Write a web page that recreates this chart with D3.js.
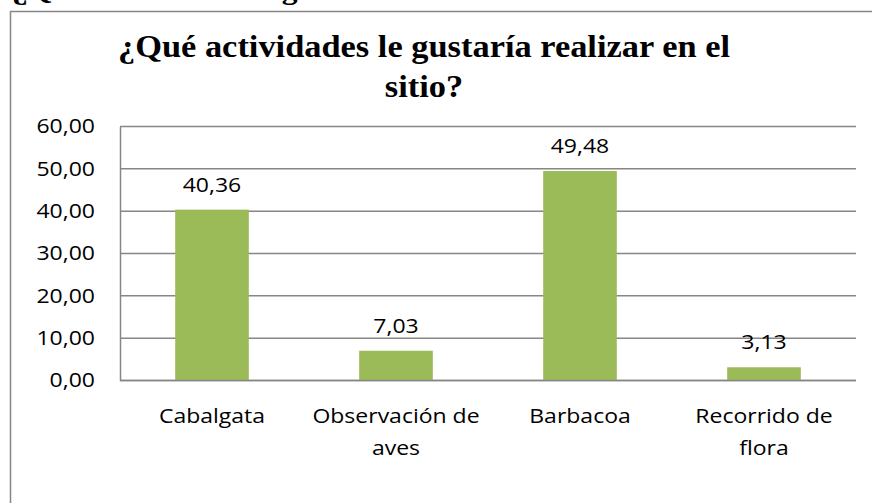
<!DOCTYPE html>
<html>
<head>
<meta charset="utf-8">
<script src="https://cdn.jsdelivr.net/npm/d3@7"></script>
<style>
  html, body { margin: 0; padding: 0; background: #fff; }
  svg { display: block; }
</style>
</head>
<body>
<div id="chart"></div>
<script>
// data
const categories = ['Cabalgata', 'Observación de aves', 'Barbacoa', 'Recorrido de flora'];
const values = [40.36, 7.03, 49.48, 3.13];
const yTicks = [0, 10, 20, 30, 40, 50, 60];
const titleLines = ['¿Qué actividades le gustaría realizar en el', 'sitio?'];
const headingText = '¿Qué actividades le gustaría realizar en el sitio?';

const width = 872;
const height = 503;
const margin = { top: 126.5, right: 16, bottom: 122.5, left: 120 };

const barColor = '#9bbb59';
const lineColor = '#868686';
const labelFont = '"Open Sans", "DejaVu Sans", sans-serif';
const serifFont = '"Liberation Serif", "Times New Roman", serif';
// the picture is a bit wide, so text is stretched sideways
const stretch = 1.15;

const fmt = v => d3.format('.2f')(v).replace('.', ',');
const widen = (ax, k) => `translate(${ax},0) scale(${k},1) translate(${-ax},0)`;

const svg = d3.select('#chart').append('svg')
  .attr('width', width)
  .attr('height', height);

// heading of the page, cut at the top
svg.append('text')
  .attr('x', 12)
  .attr('y', -1)
  .attr('transform', widen(12, 1.13))
  .attr('font-family', serifFont)
  .attr('font-weight', 'bold')
  .attr('font-size', 28)
  .attr('fill', '#000')
  .text(headingText);

// chart frame (left and top only are in view)
svg.append('path')
  .attr('d', `M10.5,${height}V11.5H${width}`)
  .attr('fill', 'none')
  .attr('stroke', lineColor)
  .attr('stroke-width', 1.5);

// title
const title = svg.append('text')
  .attr('transform', widen(424, 1.11))
  .attr('font-family', serifFont)
  .attr('font-weight', 'bold')
  .attr('font-size', 31)
  .attr('text-anchor', 'middle')
  .attr('fill', '#000');
titleLines.forEach((line, i) => {
  title.append('tspan')
    .attr('x', 424)
    .attr('y', 57 + i * 40)
    .text(line);
});

const x = d3.scaleBand()
  .domain(categories)
  .range([margin.left, width - margin.right])
  .paddingInner(0.6)
  .paddingOuter(0.3);

const y = d3.scaleLinear()
  .domain([0, 60])
  .range([height - margin.bottom, margin.top]);

// gridlines
svg.append('g')
  .selectAll('line')
  .data(yTicks)
  .join('line')
  .attr('x1', margin.left)
  .attr('x2', width - margin.right)
  .attr('y1', d => y(d))
  .attr('y2', d => y(d))
  .attr('stroke', lineColor)
  .attr('stroke-width', 1.5);

// y axis
const yAxis = svg.append('g')
  .attr('transform', `translate(${margin.left},0)`)
  .call(d3.axisLeft(y).tickValues(yTicks).tickFormat(fmt).tickSize(0).tickPadding(25));
yAxis.select('.domain')
  .attr('stroke', lineColor)
  .attr('stroke-width', 1.5);
yAxis.selectAll('text')
  .attr('font-family', labelFont)
  .attr('font-size', 20)
  .attr('fill', '#000')
  .attr('transform', widen(-25, stretch));

// bars
svg.append('g')
  .selectAll('rect')
  .data(values)
  .join('rect')
  .attr('x', (d, i) => x(categories[i]))
  .attr('y', d => y(d))
  .attr('width', x.bandwidth())
  .attr('height', d => y(0) - y(d))
  .attr('fill', barColor);

// redraw the baseline above the bars
svg.append('line')
  .attr('x1', margin.left)
  .attr('x2', width - margin.right)
  .attr('y1', y(0))
  .attr('y2', y(0))
  .attr('stroke', lineColor)
  .attr('stroke-width', 1.5);

// value labels
svg.append('g')
  .selectAll('text')
  .data(values)
  .join('text')
  .attr('x', (d, i) => x(categories[i]) + x.bandwidth() / 2)
  .attr('y', d => y(d) - 18)
  .attr('transform', (d, i) => widen(x(categories[i]) + x.bandwidth() / 2, stretch))
  .attr('text-anchor', 'middle')
  .attr('font-family', labelFont)
  .attr('font-size', 20)
  .attr('fill', '#000')
  .text(fmt);

// category labels, wrapped
const xAxis = svg.append('g')
  .attr('transform', `translate(0,${y(0)})`)
  .call(d3.axisBottom(x).tickSize(0).tickPadding(0));
xAxis.select('.domain').remove();
xAxis.selectAll('text')
  .attr('font-family', labelFont)
  .attr('font-size', 20)
  .attr('fill', '#000')
  .attr('dy', null)
  .attr('y', 0)
  .attr('transform', widen(0, stretch))
  .each(function (d) {
    const el = d3.select(this);
    const words = d.split(' ');
    const maxW = x.step() * 0.95 / stretch;
    el.text(null);
    const lines = [];
    let cur = [];
    const probe = el.append('tspan');
    words.forEach(w => {
      probe.text([...cur, w].join(' '));
      if (cur.length && probe.node().getComputedTextLength() > maxW) {
        lines.push(cur.join(' '));
        cur = [w];
      } else {
        cur.push(w);
      }
    });
    lines.push(cur.join(' '));
    probe.remove();
    lines.forEach((line, i) => {
      el.append('tspan')
        .attr('x', 0)
        .attr('y', 43 + i * 32)
        .text(line);
    });
  });
</script>
</body>
</html>
